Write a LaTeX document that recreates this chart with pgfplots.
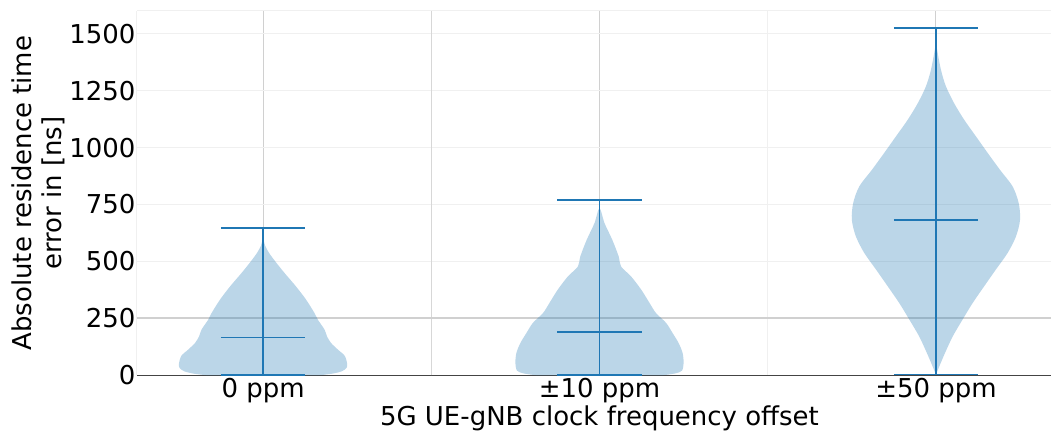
\documentclass[border=0pt]{standalone}
\usepackage{pgfplots}
\pgfplotsset{compat=1.18}
\usepackage{fontspec}
\setmainfont{DejaVu Sans}
\definecolor{c0}{HTML}{1F77B4}
\definecolor{gridfaint}{HTML}{F0F0F0}
\definecolor{gridmid}{HTML}{D0D0D0}
\definecolor{spine}{HTML}{444444}
\newcommand\fsz{\fontsize{13}{14.8}\selectfont}

\begin{document}
\begin{tikzpicture}
\begin{axis}[
  scale only axis, width=457.5pt, height=182.3pt,
  xmin=-0.375, xmax=2.342, ymin=0, ymax=1600,
  axis x line*=bottom, axis y line*=left,
  x axis line style={-, draw=spine, line width=0.7pt},
  y axis line style={-, draw=gridfaint, line width=0.5pt},
  xtick={0,1,2}, xticklabels={0 ppm, ±10 ppm, ±50 ppm},
  ytick={0,250,...,1500},
  major tick length=0pt, minor tick length=0pt,
  xmajorgrids, ymajorgrids,
  major x grid style={draw=gridmid, line width=0.5pt},
  major y grid style={draw=gridfaint, line width=0.5pt},
  minor xtick={1.5}, minor ytick={1600}, xminorgrids, yminorgrids,
  minor grid style={draw=gridfaint, line width=0.5pt},
  extra x ticks={0.5}, extra x tick labels={},
  extra x tick style={grid=major, major x grid style={draw=gridmid!85, line width=0.5pt}},
  extra y ticks={250}, extra y tick labels={},
  extra y tick style={grid=major, major y grid style={draw=gridmid, line width=1pt}},
  tick label style={font=\fsz}, label style={font=\fsz},
  xticklabel style={yshift=2pt},
  yticklabel style={xshift=2.8pt},
  /pgf/number format/assume math mode=true,
  /pgf/number format/1000 sep={},
  xlabel={5G UE-gNB clock frequency offset},
  ylabel={Absolute residence time\\error in [ns]},
  ylabel style={align=center},
  ylabel shift=-4.5pt,
  xlabel style={at={(ticklabel cs:0.506)}, yshift=5.5pt},
]
% 0 ppm
\addplot[fill=c0, fill opacity=0.3, draw=none, smooth, tension=0.5] coordinates {
  (0.17,0) (0.21,8) (0.235,18) (0.248,32) (0.25,50) (0.243,85) (0.223,112)
  (0.202,142) (0.19,171) (0.183,200) (0.163,244) (0.153,273) (0.128,332)
  (0.098,390) (0.064,449) (0.04,493) (0.018,537) (0.006,570) (0,600)
  (-0.006,570) (-0.018,537) (-0.04,493) (-0.064,449) (-0.098,390) (-0.128,332)
  (-0.153,273) (-0.163,244) (-0.183,200) (-0.19,171) (-0.202,142) (-0.223,112)
  (-0.243,85) (-0.25,50) (-0.248,32) (-0.235,18) (-0.21,8) (-0.17,0)
} -- cycle;
% +-10 ppm
\addplot[fill=c0, fill opacity=0.3, draw=none, smooth, tension=0.5] coordinates {
  (1.19,0) (1.225,8) (1.245,20) (1.25,54) (1.247,98) (1.235,142) (1.217,186)
  (1.198,230) (1.168,273) (1.149,317) (1.124,376) (1.094,434) (1.064,478)
  (1.057,522) (1.038,595) (1.015,668) (1.0,734)
  (0.985,668) (0.962,595) (0.943,522) (0.936,478) (0.906,434) (0.876,376)
  (0.851,317) (0.832,273) (0.802,230) (0.783,186) (0.765,142) (0.753,98)
  (0.75,54) (0.755,20) (0.775,8) (0.81,0)
} -- cycle;
% +-50 ppm
\addplot[fill=c0, fill opacity=0.3, draw=none, smooth, tension=0.5] coordinates {
  (2.0,3) (2.01,39) (2.027,98) (2.05,171) (2.079,244) (2.109,317) (2.143,390)
  (2.178,464) (2.213,537) (2.238,610) (2.25,683) (2.246,756) (2.228,829)
  (2.19,903) (2.154,976) (2.119,1049) (2.084,1122) (2.054,1195) (2.03,1268)
  (2.015,1341) (2.002,1444) (2.0,1500)
  (1.998,1444) (1.985,1341) (1.97,1268) (1.946,1195) (1.916,1122) (1.881,1049)
  (1.846,976) (1.81,903) (1.772,829) (1.754,756) (1.75,683) (1.762,610)
  (1.787,537) (1.822,464) (1.857,390) (1.891,317) (1.921,244) (1.95,171)
  (1.973,98) (1.99,39)
} -- cycle;
% min-max bars, caps and medians
\addplot[c0, line width=0.8pt] coordinates {(0,0) (0,648)};
\addplot[c0, line width=0.8pt] coordinates {(-0.125,648) (0.125,648)};
\addplot[c0, line width=0.8pt] coordinates {(-0.125,0) (0.125,0)};
\addplot[c0, line width=0.8pt] coordinates {(-0.125,165) (0.125,165)};
\addplot[c0, line width=0.8pt] coordinates {(1,0) (1,770)};
\addplot[c0, line width=0.8pt] coordinates {(0.875,770) (1.125,770)};
\addplot[c0, line width=0.8pt] coordinates {(0.875,0) (1.125,0)};
\addplot[c0, line width=0.8pt] coordinates {(0.875,191) (1.125,191)};
\addplot[c0, line width=0.8pt] coordinates {(2,3) (2,1525)};
\addplot[c0, line width=0.8pt] coordinates {(1.875,1525) (2.125,1525)};
\addplot[c0, line width=0.8pt] coordinates {(1.875,3) (2.125,3)};
\addplot[c0, line width=0.8pt] coordinates {(1.875,682) (2.125,682)};
\end{axis}
% white space above and left of the axis, as in the reference
\path ([yshift=5.5pt]current axis.north);
\path ([xshift=-68.5pt]current axis.west);
\end{tikzpicture}
\end{document}
